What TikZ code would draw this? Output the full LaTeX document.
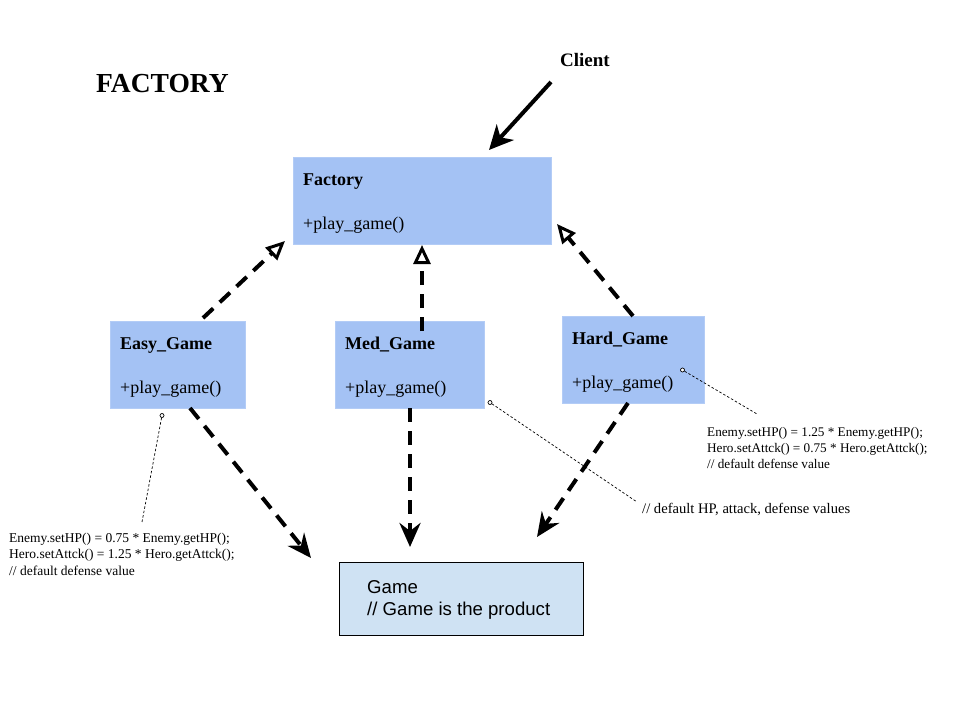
\documentclass[tikz,border=0pt]{standalone}
\usepackage{fontspec}
\setmainfont{Liberation Serif}
\newfontfamily\sansf{Liberation Sans}
\usetikzlibrary{arrows.meta}
\definecolor{boxblue}{HTML}{A4C2F4}
\definecolor{boxedge}{HTML}{B3CCF6}
\definecolor{gameblue}{HTML}{CFE2F3}
\tikzset{
  umlbox/.style={fill=boxblue, draw=boxedge, line width=0.8pt, anchor=north west, inner sep=0pt},
  gamebox/.style={fill=gameblue, draw=black, line width=1pt, anchor=north west, inner sep=0pt},
  boxtitle/.style={anchor=base west, inner sep=0pt, font=\fontsize{18}{20}\selectfont\bfseries},
  boxmeth/.style={anchor=base west, inner sep=0pt, font=\fontsize{18}{20}\selectfont},
  notetext/.style={anchor=base west, inner sep=0pt, font=\fontsize{13.5}{16.5}\selectfont, align=left},
  realize/.style={line width=4pt, dash pattern=on 14pt off 9pt,
    -{Triangle[open, length=19pt, width=17pt, line width=3pt]}},
  depend/.style={line width=4pt, dash pattern=on 14pt off 9pt,
    -{Stealth[length=24pt, width=21pt, inset=8pt]}},
  clientarrow/.style={line width=4pt, -{Stealth[length=24pt, width=23pt, inset=7pt]}},
  notelink/.style={line width=0.7pt, dash pattern=on 2.5pt off 2pt},
  pin/.style={circle, draw=black, line width=0.7pt, fill=white, minimum size=4pt, inner sep=0pt},
}
\begin{document}
\begin{tikzpicture}[x=1pt,y=-1pt]
\useasboundingbox (0,0) rectangle (960,720);
\fill[white] (0,0) rectangle (960,720);

% title and client
\node[anchor=base west, inner sep=0pt, font=\fontsize{27.5}{30}\selectfont\bfseries] (title) at (96,92) {FACTORY};
\node[anchor=base west, inner sep=0pt, font=\fontsize{19}{21}\selectfont\bfseries] (client) at (560,66.5) {Client};

% boxes
\node[umlbox, minimum width=258pt, minimum height=87pt] (factory) at (293,157) {};
\node[boxtitle] (factoryT) at (303,185) {Factory};
\node[boxmeth] (factoryM) at (303,229) {+play\_game()};

\node[umlbox, minimum width=135pt, minimum height=87pt] (easy) at (110,321) {};
\node[boxtitle] (easyT) at (120,349) {Easy\_Game};
\node[boxmeth] (easyM) at (120,393.5) {+play\_game()};

\node[umlbox, minimum width=149pt, minimum height=87pt] (med) at (335,321) {};
\node[boxtitle] (medT) at (345,349) {Med\_Game};
\node[boxmeth] (medM) at (345,393.5) {+play\_game()};

\node[umlbox, minimum width=142pt, minimum height=87pt] (hard) at (562,316) {};
\node[boxtitle] (hardT) at (572,344) {Hard\_Game};
\node[boxmeth] (hardM) at (572,388.5) {+play\_game()};

\node[gamebox, minimum width=244pt, minimum height=73pt] (game) at (339,562) {};
\node[anchor=base west, inner sep=0pt, font=\sansf\fontsize{18.6}{22}\selectfont, align=left] (gameT) at (367,615.5) {Game\\// Game is the product};

% notes (anchor is the baseline of the last line)
\node[notetext] (noteEasy) at (9,575) {Enemy.setHP() = 0.75 * Enemy.getHP();\\Hero.setAttck() = 1.25 * Hero.getAttck();\\// default defense value};
\node[notetext, font=\fontsize{13.2}{16}\selectfont] (noteHard) at (707,468) {Enemy.setHP() = 1.25 * Enemy.getHP();\\Hero.setAttck() = 0.75 * Hero.getAttck();\\// default defense value};
\node[notetext, font=\fontsize{14.6}{17}\selectfont] (noteMed) at (642,513.5) {// default HP, attack, defense values};

% connector endpoints
\coordinate (cS) at (551,82);
\coordinate (cE) at (489,150);
\coordinate (eUs) at (203,318);
\coordinate (eUe) at (285,241);
\coordinate (mUs) at (422,331);
\coordinate (mUe) at (422,245);
\coordinate (hUs) at (633,316);
\coordinate (hUe) at (557,224);
\coordinate (eDs) at (190,408);
\coordinate (eDe) at (311,558);
\coordinate (mDs) at (410,408);
\coordinate (mDe) at (410,547);
\coordinate (hDs) at (628,403);
\coordinate (hDe) at (537,537);

% note pins and ends
\node[pin] (pE) at (162,415.5) {};
\coordinate (pEe) at (142,522);
\node[pin] (pM) at (490,402.5) {};
\coordinate (pMe) at (637,502);
\node[pin] (pH) at (682.5,370) {};
\coordinate (pHe) at (757,414);

% connectors
\draw[clientarrow] (cS) -- (cE);
\draw[realize] (eUs) -- (eUe);
\draw[realize] (mUs) -- (mUe);
\draw[realize] (hUs) -- (hUe);
\draw[depend] (eDs) -- (eDe);
\draw[depend] (mDs) -- (mDe);
\draw[depend] (hDs) -- (hDe);
\draw[notelink] (pE) -- (pEe);
\draw[notelink] (pM) -- (pMe);
\draw[notelink] (pH) -- (pHe);
\end{tikzpicture}
\end{document}
